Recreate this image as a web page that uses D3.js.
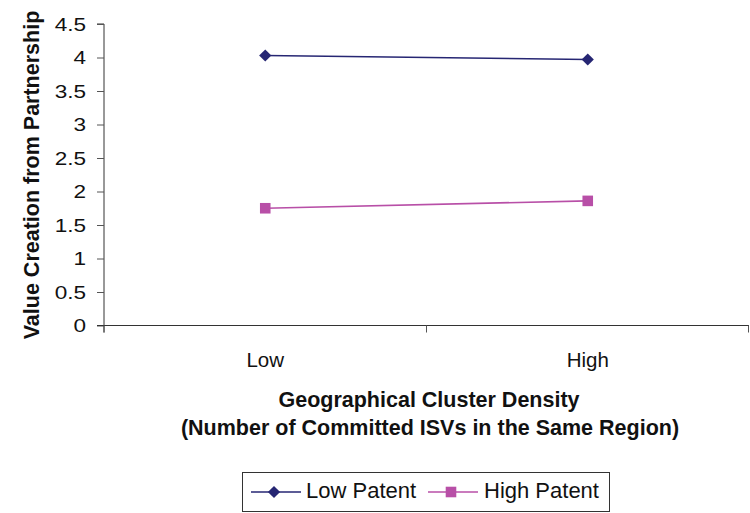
<!DOCTYPE html>
<html>
<head>
<meta charset="utf-8">
<script src="https://cdn.jsdelivr.net/npm/d3@7"></script>
<style>
  body { margin: 0; background: #fff; }
  svg { display: block; font-family: "Liberation Sans", Arial, sans-serif; }
</style>
</head>
<body>
<svg id="chart" width="750" height="513"></svg>
<script>
// Interaction plot data
const categories = ["Low", "High"];
const seriesNames = ["Low Patent", "High Patent"];
const lowPatent = [4.03, 3.97];
const highPatent = [1.75, 1.86];
const yTicks = [0, 0.5, 1, 1.5, 2, 2.5, 3, 3.5, 4, 4.5];
const colors = ["#262673", "#b84fa7"];

const svg = d3.select("#chart");
const margin = { left: 104, right: 1, top: 24, bottom: 187.5 };
const W = 750, H = 513;
const plotBottom = H - margin.bottom;

const x = d3.scaleBand().domain(categories).range([margin.left, W - margin.right]);
const y = d3.scaleLinear().domain([0, 4.5]).range([plotBottom, margin.top]);

// Y axis
const yAxis = svg.append("g")
  .attr("transform", `translate(${margin.left},0)`)
  .call(d3.axisLeft(y).tickValues(yTicks).tickSize(7).tickFormat(d3.format("")));
yAxis.select(".domain").attr("stroke", "#333").attr("d", `M-7,${y(4.5)}H0V${plotBottom + 7}`);
yAxis.selectAll(".tick line").attr("stroke", "#555");
yAxis.selectAll(".tick text")
  .attr("x", 0).attr("dy", "0.35em")
  .attr("transform", "translate(-18,0) scale(1.22,1)")
  .attr("font-size", 18.5).attr("fill", "#111");

// X axis: ticks sit on band boundaries, labels at band centres
const xAxis = svg.append("g").attr("transform", `translate(0,${plotBottom})`);
xAxis.append("line").attr("x1", margin.left - 7).attr("x2", W - margin.right)
  .attr("stroke", "#333");
const bounds = [margin.left, x("High"), W - margin.right - 0.5];
xAxis.selectAll(".xt").data(bounds).join("line")
  .attr("x1", d => d).attr("x2", d => d).attr("y1", 0).attr("y2", 7)
  .attr("stroke", "#555");
xAxis.selectAll(".xl").data(categories).join("text")
  .attr("x", d => x(d) + x.bandwidth() / 2).attr("y", 41)
  .attr("text-anchor", "middle").attr("font-size", 20.5).attr("fill", "#111")
  .text(d => d);

// Axis titles
svg.append("text").attr("x", 429).attr("y", 407).attr("text-anchor", "middle")
  .attr("font-size", 21.5).attr("font-weight", "bold").attr("fill", "#111")
  .text("Geographical Cluster Density");
svg.append("text").attr("x", 430).attr("y", 435).attr("text-anchor", "middle")
  .attr("font-size", 21.5).attr("font-weight", "bold").attr("fill", "#111")
  .text("(Number of Committed ISVs in the Same Region)");
svg.append("text")
  .attr("transform", `translate(38.5,175) rotate(-90)`)
  .attr("text-anchor", "middle").attr("font-size", 21.5).attr("font-weight", "bold")
  .attr("fill", "#111").text("Value Creation from Partnership");

// Series lines and markers
const series = [lowPatent, highPatent];
const line = d3.line().x((d, i) => x(categories[i]) + x.bandwidth() / 2).y(d => y(d));
const diamond = d3.symbol().type(d3.symbolDiamond2 || d3.symbolDiamond).size(95);
const square = d3.symbol().type(d3.symbolSquare).size(112);

series.forEach((vals, s) => {
  svg.append("path").datum(vals).attr("d", line)
    .attr("fill", "none").attr("stroke", colors[s]).attr("stroke-width", 1.6);
  svg.selectAll(".m" + s).data(vals).join("path")
    .attr("transform", (d, i) => `translate(${x(categories[i]) + x.bandwidth() / 2},${y(d)})`)
    .attr("d", s === 0 ? diamond : square)
    .attr("fill", colors[s]);
});

// Legend
const lg = svg.append("g");
lg.append("rect").attr("x", 242.5).attr("y", 472.5).attr("width", 367).attr("height", 39)
  .attr("fill", "#fff").attr("stroke", "#333");
const items = [{ x0: 251, tx: 306 }, { x0: 428, tx: 484 }];
items.forEach((it, s) => {
  lg.append("line").attr("x1", it.x0).attr("x2", it.x0 + 50).attr("y1", 492).attr("y2", 492)
    .attr("stroke", colors[s]).attr("stroke-width", 1.6);
  lg.append("path").attr("transform", `translate(${it.x0 + 23},492)`)
    .attr("d", s === 0 ? diamond : square).attr("fill", colors[s]);
  lg.append("text").attr("x", it.tx).attr("y", 497.5).attr("font-size", 22)
    .attr("fill", "#111").text(seriesNames[s]);
});
</script>
</body>
</html>
